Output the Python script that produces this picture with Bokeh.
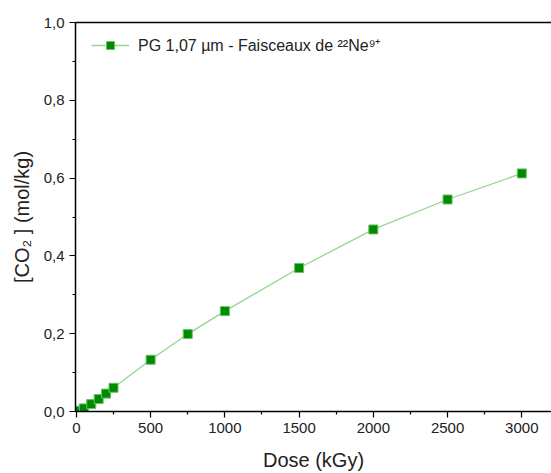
from bokeh.plotting import figure
from bokeh.models import FixedTicker, LinearAxis, Range1d
from bokeh.embed import file_html
from bokeh.resources import INLINE

dose = [0, 50, 100, 150, 200, 250, 500, 750, 1000, 1500, 2000, 2500, 3000]
co2 = [0.002, 0.008, 0.019, 0.032, 0.046, 0.061, 0.133, 0.199, 0.258, 0.369, 0.468, 0.545, 0.612]
series_label = "PG 1,07 µm - Faisceaux de ²²Ne⁹⁺"
x_ticks = [0, 500, 1000, 1500, 2000, 2500, 3000]
y_ticks = [0.0, 0.2, 0.4, 0.6, 0.8, 1.0]
y_tick_labels = ["0,0", "0,2", "0,4", "0,6", "0,8", "1,0"]

FONT = "Liberation Sans"

p = figure(width=551, height=473, output_backend="svg", toolbar_location=None,
           x_range=Range1d(-6, 3200), y_range=Range1d(0, 1.0),
           min_border_left=75, min_border_right=0, min_border_top=22, min_border_bottom=62)
p.outline_line_color = None
p.xgrid.visible = False
p.ygrid.visible = False
p.background_fill_color = "white"
p.border_fill_color = "white"

p.line(dose, co2, line_color="#8fd88f", line_width=1.3, legend_label=series_label)
p.scatter(dose, co2, marker="square", size=9, fill_color="#008a00", line_color="#66c266",
          line_width=1, legend_label=series_label)

for ax in (p.xaxis[0], p.yaxis[0]):
    ax.axis_line_color = "black"
    ax.axis_line_width = 1.5
    ax.major_tick_line_color = "black"
    ax.minor_tick_line_color = "black"
    ax.major_tick_line_width = 1.2
    ax.minor_tick_line_width = 1.2
    ax.major_tick_out = 6
    ax.major_tick_in = 0
    ax.minor_tick_out = 3
    ax.minor_tick_in = 0
    ax.major_label_text_font = FONT
    ax.major_label_text_font_size = "15px"
    ax.major_label_text_color = "#222222"
    ax.axis_label_text_font = FONT
    ax.axis_label_text_font_size = "20px"
    ax.axis_label_text_font_style = "normal"
    ax.axis_label_text_color = "#222222"

p.xaxis[0].ticker = FixedTicker(ticks=x_ticks, minor_ticks=[250, 750, 1250, 1750, 2250, 2750, 3250])
p.yaxis[0].ticker = FixedTicker(ticks=y_ticks, minor_ticks=[0.1, 0.3, 0.5, 0.7, 0.9])
p.yaxis[0].major_label_overrides = {t: l for t, l in zip(y_ticks, y_tick_labels)}
p.xaxis[0].axis_label = "Dose (kGy)"
p.yaxis[0].axis_label = "[CO₂ ] (mol/kg)"
p.xaxis[0].major_label_standoff = 5
p.xaxis[0].axis_label_standoff = 13
p.yaxis[0].major_label_standoff = 5
p.yaxis[0].axis_label_standoff = 8

top = LinearAxis(ticker=FixedTicker(ticks=[]), major_label_text_font_size="0px",
                 axis_line_color="black", axis_line_width=1.5)
top.major_tick_line_color = None
top.minor_tick_line_color = None
p.add_layout(top, "above")

lg = p.legend[0]
lg.location = (16, 355)
lg.border_line_color = None
lg.background_fill_alpha = 0
lg.label_text_font = FONT
lg.label_text_font_size = "16px"
lg.label_text_color = "#222222"
lg.glyph_width = 38
lg.glyph_height = 20
lg.margin = 0
lg.padding = 4
lg.label_standoff = 9

open("out.html", "w").write(file_html(p, INLINE))
